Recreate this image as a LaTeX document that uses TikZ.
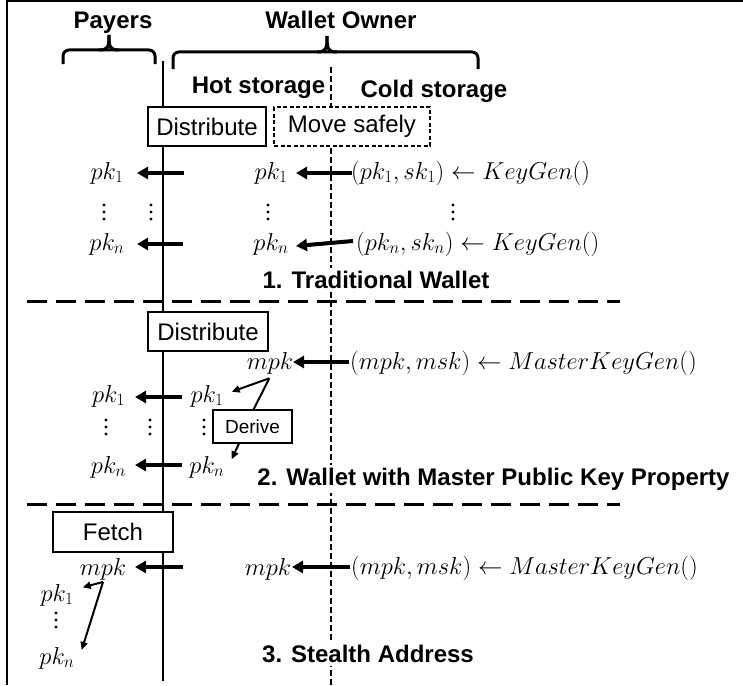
\RequirePackage{fix-cm}
\documentclass[tikz,border=0pt]{standalone}
\usepackage{fontspec}
\setmainfont{Liberation Sans}
\usetikzlibrary{arrows.meta}
\begin{document}
\begin{tikzpicture}[x=1pt,y=-1pt,
  hd/.style={font=\fontsize{24}{28}\selectfont\bfseries, inner sep=0pt},
  ttl/.style={font=\fontsize{24}{28}\selectfont\bfseries, fill=white, inner sep=3pt},
  mth/.style={font=\fontsize{24.5}{28}\selectfont, inner sep=0pt},
  boxn/.style={draw, line width=1.5pt, fill=white, inner sep=0pt, font=\fontsize{24}{28}\selectfont},
  dashbox/.style={boxn, dash pattern=on 4pt off 2.5pt},
  bigarr/.style={line width=4pt, -{Triangle[length=11pt,width=12pt]}},
  smallarr/.style={line width=2pt, -{Triangle[length=8pt,width=7pt]}},
  thinline/.style={line width=2pt},
  brace/.style={line width=3pt, rounded corners=6pt},
  sep/.style={line width=3pt, dash pattern=on 20pt off 9pt},
  vdash/.style={line width=2pt, dash pattern=on 6pt off 3pt},
  dotc/.style={fill=black}
]
\useasboundingbox (0,0) rectangle (743,685);
\newcommand\vdd[3]{\foreach \k in {-7,0,7} {\fill[dotc] (#1,#2+\k) circle (1.6);} \coordinate (#3) at (#1,#2);}

% frame
\draw[line width=1.6pt] (7,685) -- (7,0.8) -- (743,0.8);

% life lines
\coordinate (solidTop) at (163,61);
\coordinate (solidBot) at (163,681);
\draw[thinline] (solidTop) -- (solidBot);
\coordinate (dashTop) at (331,67);
\coordinate (dashBot) at (331,685);
\draw[vdash] (dashTop) -- (dashBot);

% separators
\coordinate (s1a) at (27,301); \coordinate (s1b) at (620,301);
\coordinate (s2a) at (27,504); \coordinate (s2b) at (620,504);
\draw[sep] (s1a) -- (s1b);
\draw[sep] (s2a) -- (s2b);

% headings
\node[hd, anchor=base] (payers) at (113,29) {Payers};
\node[hd, anchor=base] (owner) at (341,29) {Wallet Owner};
\node[hd, anchor=base] (hot) at (258.5,93) {Hot storage};
\node[hd, anchor=base] (cold) at (434,97) {Cold storage};

% braces
\draw[brace] (63,64) -- (63,50) -- (155,50) -- (155,64);
\draw[line width=3pt] (99,50) .. controls (108,50) and (109,47) .. (109,35);
\draw[line width=3pt] (119,50) .. controls (110,50) and (109,47) .. (109,35);
\draw[brace] (173,69) -- (173,52) -- (478,52) -- (478,69);
\draw[line width=3pt] (317,52) .. controls (326,52) and (327,49) .. (327,36);
\draw[line width=3pt] (337,52) .. controls (328,52) and (327,49) .. (327,36);

% ---------- section 1 ----------
\node[boxn, minimum width=118pt, minimum height=39pt] (dist1) at (207,126.5) {Distribute};
\node[dashbox, minimum width=156pt, minimum height=39pt] (move) at (352,126.5) {Move safely};

\node[mth] (a1p1) at (107,173) {$pk_1$};
\node[mth] (a1h1) at (271,173) {$pk_1$};
\node[mth, anchor=west] (a1c1) at (351,173) {$(pk_1, sk_1) \leftarrow KeyGen()$};
\node[mth] (a1pn) at (107,244) {$pk_n$};
\node[mth] (a1hn) at (271,244) {$pk_n$};
\node[mth, anchor=west] (a1cn) at (356,244) {$(pk_n, sk_n) \leftarrow KeyGen()$};

\coordinate (r1a) at (184,173); \coordinate (r1b) at (137,173);
\coordinate (r1c) at (352,173); \coordinate (r1d) at (296,173);
\coordinate (r2a) at (183,244); \coordinate (r2b) at (137,244);
\coordinate (r2c) at (353,241); \coordinate (r2d) at (296,246);
\draw[bigarr] (r1a) -- (r1b);
\draw[bigarr] (r1c) -- (r1d);
\draw[bigarr] (r2a) -- (r2b);
\draw[bigarr] (r2c) -- (r2d);

\vdd{104}{212}{d11}
\vdd{151}{212}{d12}
\vdd{268}{212}{d13}
\vdd{453}{212}{d14}

\node[ttl] (t1) at (376,280) {1. Traditional Wallet};

% ---------- section 2 ----------
\node[boxn, minimum width=120pt, minimum height=39pt] (dist2) at (208,331.5) {Distribute};
\node[mth] (b2mpk) at (270,363) {$mpk$};
\node[mth, anchor=west] (b2c) at (350,363) {$(mpk, msk) \leftarrow MasterKeyGen()$};
\coordinate (m2a) at (349,362); \coordinate (m2b) at (293,362);
\draw[bigarr] (m2a) -- (m2b);

\node[mth] (b2p1) at (108.5,396) {$pk_1$};
\node[mth] (b2h1) at (207,396) {$pk_1$};
\node[mth] (b2pn) at (108.5,467) {$pk_n$};
\node[mth] (b2hn) at (207,467) {$pk_n$};
\coordinate (q1a) at (182,397); \coordinate (q1b) at (135,397);
\coordinate (q2a) at (182,465); \coordinate (q2b) at (135,465);
\draw[bigarr] (q1a) -- (q1b);
\draw[bigarr] (q2a) -- (q2b);

\vdd{106}{427}{d21}
\vdd{150}{427}{d22}
\vdd{204}{427}{d23}

\node[boxn, minimum width=79pt, minimum height=33pt, font=\fontsize{19}{22}\selectfont] (derive) at (252.5,426.5) {Derive};
\coordinate (mpkfoot) at (269.3,378.3);
\coordinate (pk1tip) at (231.7,391.7);
\coordinate (deriveTop) at (253.3,410);
\coordinate (deriveBot) at (239.3,442.7);
\coordinate (pkntip) at (231.7,459.3);
\draw[smallarr] (mpkfoot) -- (pk1tip);
\draw[thinline] (mpkfoot) -- (deriveTop);
\draw[smallarr] (deriveBot) -- (pkntip);

\node[ttl, anchor=base] (t2) at (493.5,485) {2. Wallet with Master Public Key Property};

% ---------- section 3 ----------
\node[boxn, minimum width=120pt, minimum height=40pt] (fetch) at (113,532) {Fetch};
\node[mth] (c3p) at (103,569) {$mpk$};
\node[mth] (c3h) at (268,569) {$mpk$};
\node[mth, anchor=west] (c3c) at (351,568) {$(mpk, msk) \leftarrow MasterKeyGen()$};
\coordinate (w1a) at (183,567); \coordinate (w1b) at (135,567);
\coordinate (w2a) at (350,567); \coordinate (w2b) at (292,567);
\draw[bigarr] (w1a) -- (w1b);
\draw[bigarr] (w2a) -- (w2b);

\node[mth] (c3k1) at (57,595) {$pk_1$};
\node[mth] (c3kn) at (57,658) {$pk_n$};
\vdd{56}{620}{d31}
\coordinate (mpkfoot3) at (103,582);
\coordinate (k1tip) at (82.7,587.3);
\coordinate (kntip) at (81.7,650);
\draw[smallarr] (mpkfoot3) -- (k1tip);
\draw[smallarr] (mpkfoot3) -- (kntip);

\node[ttl] (t3) at (368,654) {3. Stealth Address};
\end{tikzpicture}
\end{document}
